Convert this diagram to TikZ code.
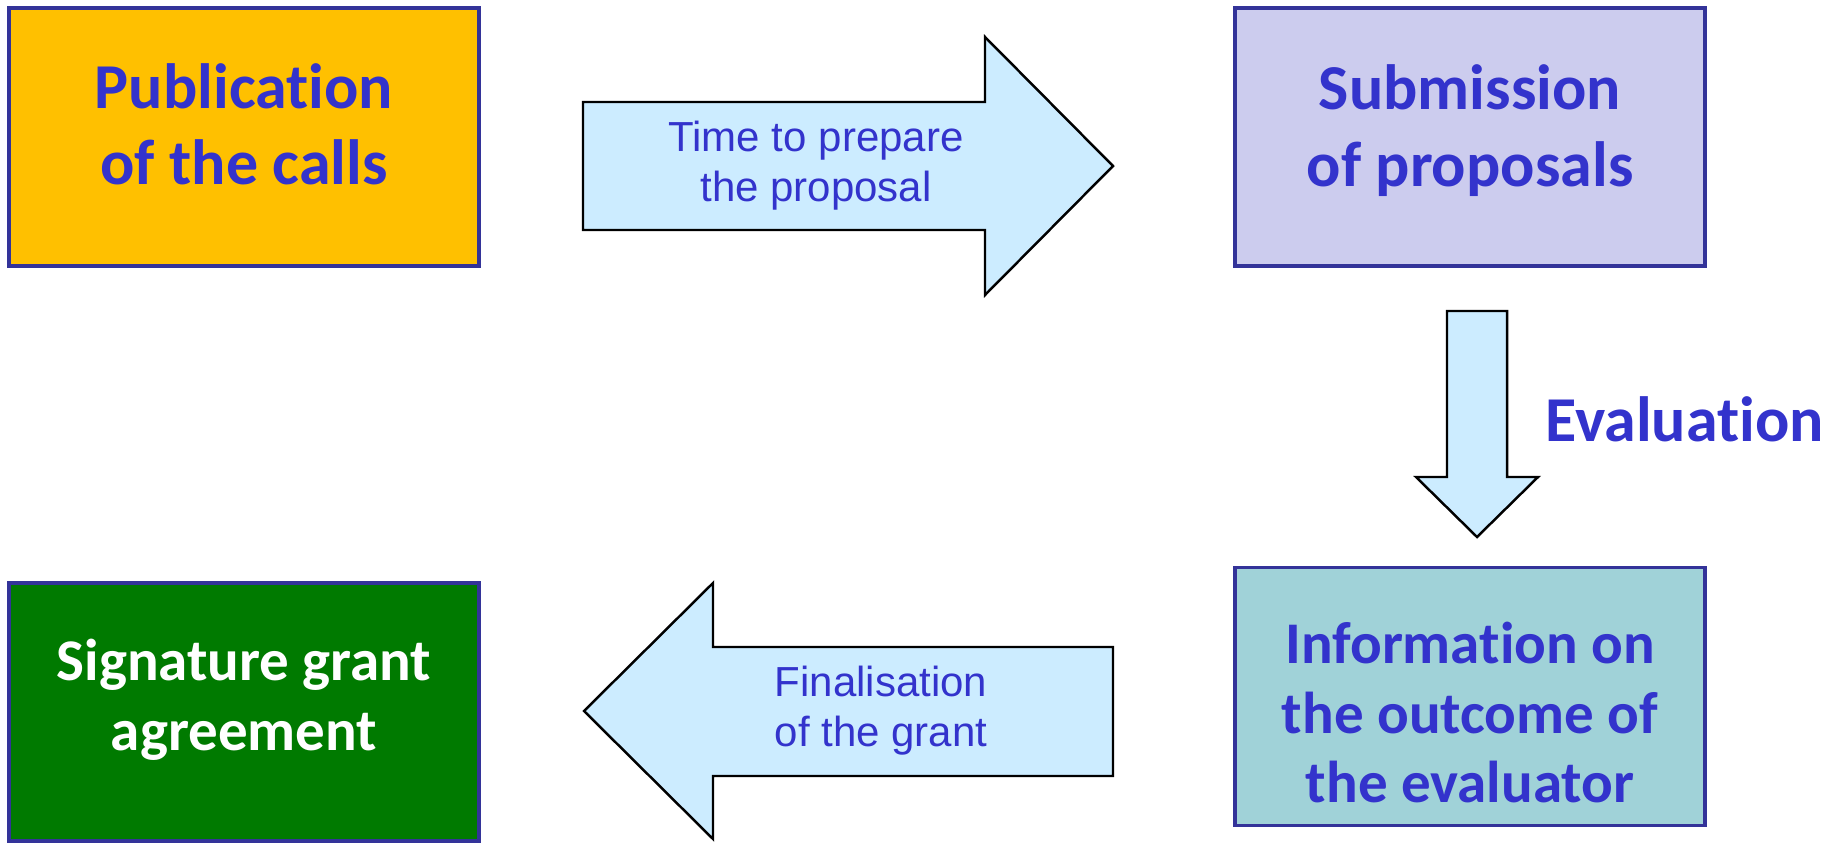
\documentclass[tikz,border=0pt]{standalone}
\usepackage{fontspec}
\setmainfont{Carlito}[Ligatures=NoCommon]
\newfontfamily\arialfont{Liberation Sans}
\definecolor{boxline}{HTML}{333399}
\definecolor{textblue}{HTML}{3333CC}
\definecolor{pubfill}{HTML}{FFC000}
\definecolor{subfill}{HTML}{CCCCEE}
\definecolor{infofill}{HTML}{A0D2D8}
\definecolor{sigfill}{HTML}{007A00}
\definecolor{arrowfill}{HTML}{CCECFF}

\begin{document}
\begin{tikzpicture}[
    stepbox/.style={draw=boxline, line width=1pt, minimum width=4.70cm, minimum height=2.58cm},
    bigtext/.style={align=center, text=textblue, font=\bfseries\fontsize{18.2}{21.7}\selectfont},
    smalltext/.style={bigtext, font=\bfseries\fontsize{16.8}{19.9}\selectfont},
    blockarrow/.style={draw=black, fill=arrowfill, line width=0.7pt},
    arrowtext/.style={align=center, text=textblue, font=\arialfont\fontsize{11.95}{14.2}\selectfont}
]
\useasboundingbox (0,0) rectangle (18.30,-8.43);

%% the four steps
\node[stepbox, fill=pubfill] (pub) at (2.44,-1.37) {};
\node[bigtext] (pubtext) at ([yshift=0.13cm]pub.center) {Publication\\of the calls};
\node[stepbox, fill=subfill] (sub) at (14.70,-1.37) {};
\node[bigtext] (subtext) at ([yshift=0.065cm]sub.center) {Submission\\of proposals};
\node[stepbox, fill=infofill] (info) at (14.70,-6.965) {};
\node[smalltext] (infotext) at ([yshift=-0.16cm]info.center) {Information on\\the outcome of\\the evaluator};
\node[stepbox, fill=sigfill] (sig) at (2.44,-7.12) {};
\node[smalltext, text=white] (sigtext) at ([yshift=0.12cm]sig.center) {Signature grant\\agreement};

%% pub -> sub
\coordinate (righttip) at (11.13,-1.66);
\draw[blockarrow] (5.83,-1.02) -- (9.85,-1.02) -- (9.85,-0.37) -- (righttip)
    -- (9.85,-2.95) -- (9.85,-2.30) -- (5.83,-2.30) -- cycle;
\node[arrowtext] (prepare) at (8.16,-1.66) {Time to prepare\\the proposal};

%% sub -> info
\coordinate (downtip) at (14.77,-5.37);
\draw[blockarrow] (14.47,-3.11) -- (15.07,-3.11) -- (15.07,-4.77) -- (15.38,-4.77) -- (downtip)
    -- (14.16,-4.77) -- (14.47,-4.77) -- cycle;
\node[bigtext, anchor=base west, inner sep=0pt] (eval) at (15.45,-4.41) {Evaluation};

%% info -> sig
\coordinate (lefttip) at (5.84,-7.11);
\draw[blockarrow] (lefttip) -- (7.13,-5.83) -- (7.13,-6.47) -- (11.13,-6.47)
    -- (11.13,-7.76) -- (7.13,-7.76) -- (7.13,-8.39) -- cycle;
\node[arrowtext] (final) at (8.81,-7.11) {Finalisation\\of the grant};

\end{tikzpicture}
\end{document}
